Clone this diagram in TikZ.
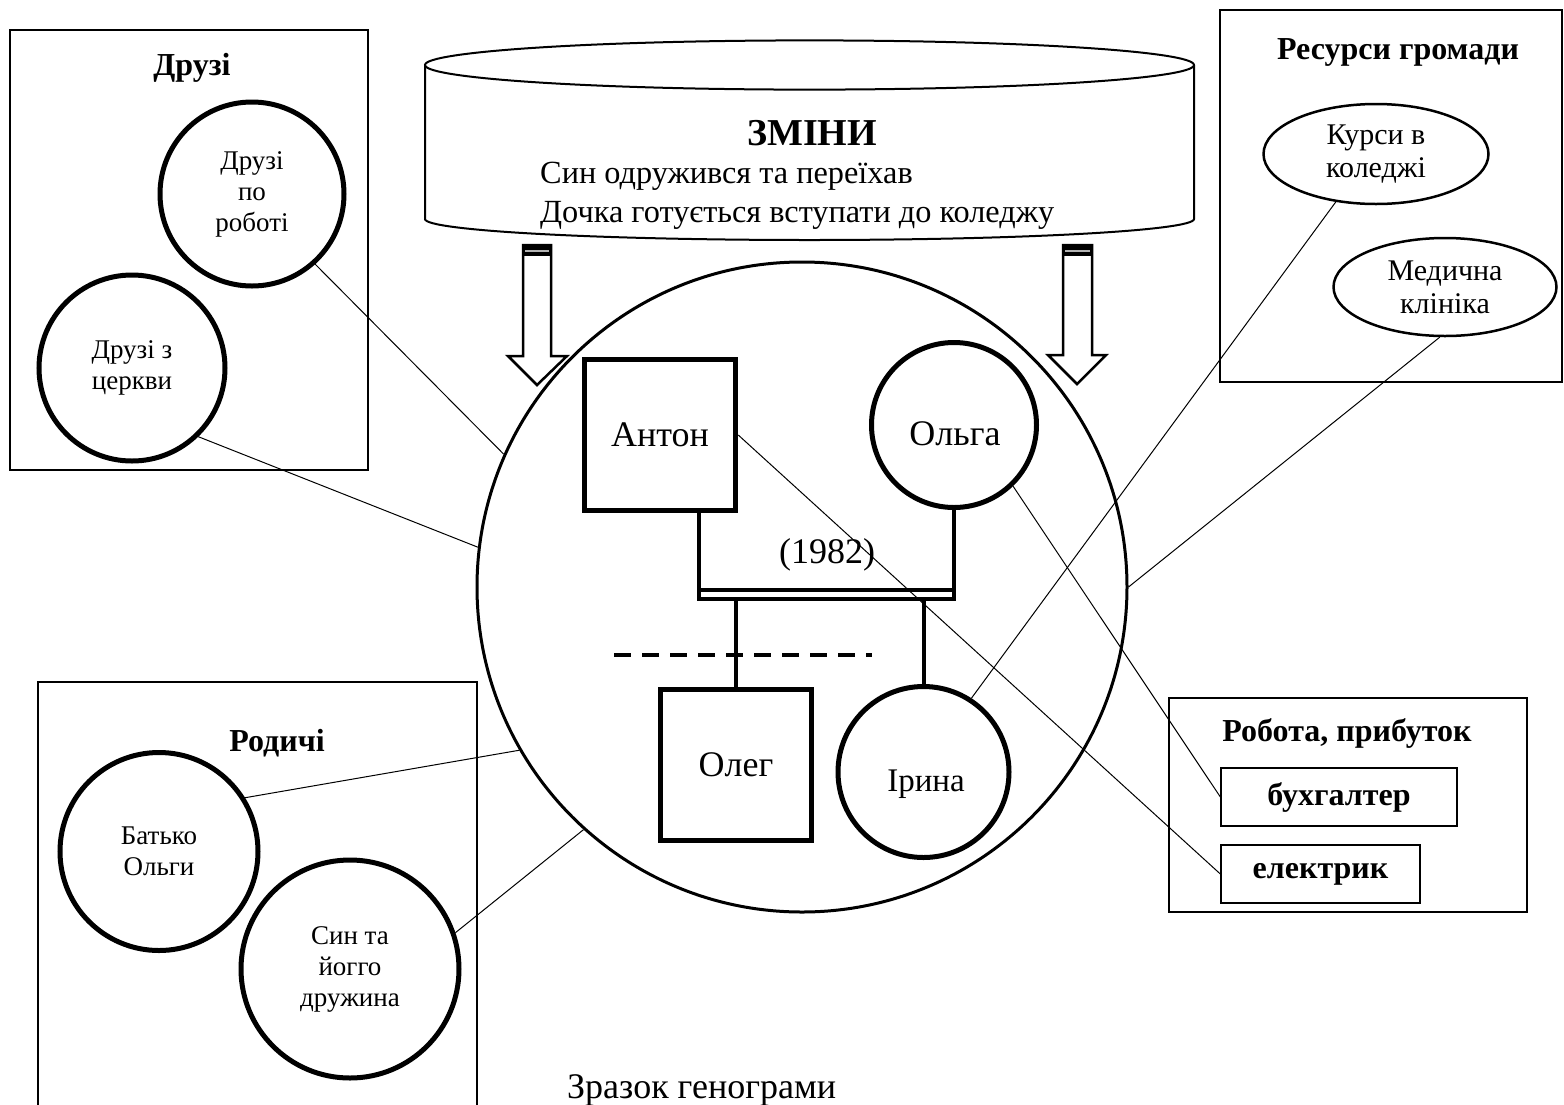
\documentclass[tikz,border=0pt]{standalone}
\usepackage{fontspec}
\setmainfont{Liberation Serif}
\usetikzlibrary{shapes.geometric,calc}
\tikzset{
  grp/.style={draw, line width=2.5pt, rectangle, inner sep=0pt},
  ttl/.style={font=\fontsize{32}{36}\selectfont\bfseries},
  pc/.style={draw, circle, line width=5pt, inner sep=0pt, align=center, font=\fontsize{27}{31}\selectfont},
  ov/.style={draw, ellipse, line width=2.5pt, inner sep=0pt, align=center, font=\fontsize{30}{33}\selectfont},
  sq/.style={draw, rectangle, line width=5.5pt, inner sep=0pt, minimum size=151pt, font=\fontsize{36}{40}\selectfont},
  fc/.style={draw, circle, line width=5pt, inner sep=0pt},
  flab/.style={font=\fontsize{36}{40}\selectfont},
  jb/.style={draw, rectangle, line width=1.3pt, inner sep=0pt, font=\fontsize{32}{36}\selectfont\bfseries},
  ztxt/.style={anchor=base west, inner sep=0pt, font=\fontsize{32.3}{37}\selectfont},
  conn/.style={line width=1pt},
  stem/.style={line width=4pt},
  barrow/.style={draw, line width=2.5pt, fill=white},
}
\begin{document}
\begin{tikzpicture}[x=1pt,y=-1pt]
\useasboundingbox (0,0) rectangle (1564,1104);
\fill[white] (0,0) rectangle (1564,1104);

% cylinder "ЗМІНИ"
\draw[line width=2pt] (425,65) -- (425,219) arc[start angle=180,end angle=360,x radius=384.5pt,y radius=21pt] -- (1194,65);
\draw[line width=2pt] (809.5,65) ellipse[x radius=384.5pt, y radius=24.6pt];
\node[font=\fontsize{38}{42}\selectfont\bfseries] (zmtitle) at (812,133) {ЗМІНИ};
\node[ztxt] (zm1) at (540,183) {Син одружився та переїхав};
\node[ztxt] (zm2) at (540,222) {Дочка готується вступати до коледжу};

% block arrows
\draw[barrow] (523,245) -- (523,356) -- (508,356) -- (537,385) -- (567,356) -- (551,356) -- (551,245) -- cycle;
\fill[black] (523,245) rectangle (551,256);
\draw[gray!60, line width=1.2pt] (525,251) -- (549,251);
\draw[barrow] (1063,245) -- (1063,355) -- (1048,355) -- (1077,384) -- (1106,355) -- (1092,355) -- (1092,245) -- cycle;
\fill[black] (1063,245) rectangle (1092,256);
\draw[gray!60, line width=1.2pt] (1065,251) -- (1090,251);

% big family circle
\node[draw, circle, line width=3pt, minimum size=650pt, inner sep=0pt] (big) at (802,587) {};

% Friends
\node[grp, minimum width=358pt, minimum height=440pt] (friends) at (189,250) {};
\node[ttl] (friendsT) at (192,68) {Друзі};
\node[pc, minimum size=184pt] (work) at (252,194) {Друзі\\по\\роботі};
\node[pc, minimum size=186pt] (church) at (132,368) {Друзі з\\церкви};

% Community resources
\node[grp, minimum width=342pt, minimum height=372pt] (res) at (1391,196) {};
\node[ttl] (resT) at (1398,52) {Ресурси громади};
\node[ov, minimum width=225pt, minimum height=100pt] (course) at (1376,154) {Курси в\\коледжі};
\node[ov, minimum width=223pt, minimum height=98pt] (clinic) at (1445,287) {Медична\\клініка};

% Work, income
\node[grp, minimum width=358pt, minimum height=214pt] (workbox) at (1348,805) {};
\node[ttl] (workT) at (1347,733) {Робота, прибуток};
\node[jb, minimum width=236pt, minimum height=58pt] (bukh) at (1339,797) {бухгалтер};
\node[jb, minimum width=199pt, minimum height=58pt] (elec) at (1320.5,874) {електрик};

% Relatives
\node[grp, minimum width=439pt, minimum height=450pt] (rel) at (257.5,907) {};
\node[ttl] (relT) at (277,743) {Родичі};
\node[pc, minimum size=198pt] (father) at (159,851.5) {Батько\\Ольги};
\node[pc, minimum size=218pt] (son) at (350,969) {Син та\\йогго\\дружина};

% family
\node[sq] (anton) at (660,435) {Антон};
\node[fc, minimum size=165pt] (olga) at (954,425) {};
\node[flab] (olgaT) at (955,434) {Ольга};
\node[sq] (oleg) at (736,765) {Олег};
\node[fc, minimum size=171pt] (irina) at (923.5,772) {};
\node[font=\fontsize{33}{38}\selectfont] (irinaT) at (926,784) {Ірина};

\coordinate (barL) at (699,599);
\coordinate (barR) at (954,599);
\coordinate (barLt) at (699,590);
\coordinate (barRt) at (954,590);
\draw[stem] ($(anton.south)+(39,0)$) -- (barL) -- (barR) -- (olga.south);
\draw[stem] (barLt) -- (barRt);
\draw[stem] (oleg.north) -- (oleg.north |- barL);
\draw[stem] (irina.north) -- (irina.north |- barL);
\node[flab] (year) at (827,555) {(1982)};

\coordinate (dashL) at (614,655);
\coordinate (dashR) at (872,655);
\draw[line width=4pt, dash pattern=on 17pt off 11pt] (dashL) -- (dashR);

% connectors
\draw[conn] (work.-48.7) -- (big.156.6);
\draw[conn] (church.-46) -- (big.173);
\draw[conn] (father.32) -- (big.-150);
\draw[conn] (son.19.5) -- (big.-132.5);
\draw[conn] (course.-130) -- (irina.57);
\draw[conn] (clinic.-96) -- (big.0.4);
\draw[conn] (olga.-46) -- (bukh.west);
\draw[conn] (anton.east) -- (elec.west);

\node[anchor=base west, inner sep=0pt, font=\fontsize{36}{41}\selectfont] (caption) at (567,1098) {Зразок генограми};
\end{tikzpicture}
\end{document}
